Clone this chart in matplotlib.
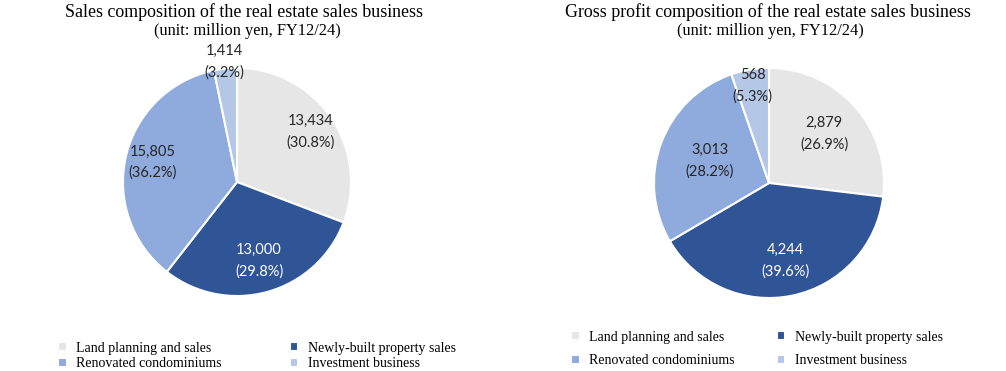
import matplotlib
matplotlib.use('Agg')
import matplotlib.pyplot as plt
import numpy as np

categories = ['Land planning and sales', 'Newly-built property sales',
              'Renovated condominiums', 'Investment business']
sales = [13434, 13000, 15805, 1414]
sales_pct = ['30.8%', '29.8%', '36.2%', '3.2%']
profit = [2879, 4244, 3013, 568]
profit_pct = ['26.9%', '39.6%', '28.2%', '5.3%']

colors = ['#E7E6E6', '#2F5597', '#8FAADC', '#B4C7E7']
text_colors = ['#262626', 'white', '#262626', '#262626']

W, H = 1006, 371
fig = plt.figure(figsize=(W / 100, H / 100), dpi=100)


def draw_pie(cx, cy, r, values, pcts, label_r):
    ax = fig.add_axes([(cx - r) / W, 1 - (cy + r) / H, 2 * r / W, 2 * r / H])
    wedges, _ = ax.pie(values, colors=colors, startangle=90, counterclock=False,
                       wedgeprops=dict(edgecolor='white', linewidth=1.5))
    ax.set_xlim(-1, 1)
    ax.set_ylim(-1, 1)
    for w, v, p, tc, lr in zip(wedges, values, pcts, text_colors, label_r):
        ang = np.deg2rad((w.theta1 + w.theta2) / 2)
        ax.text(lr * np.cos(ang), lr * np.sin(ang), f'{v:,}\n({p})',
                ha='center', va='center', color=tc, fontsize=10.5,
                family='Lato', linespacing=1.65)
    return wedges


wedges = draw_pie(237, 182, 114, sales, sales_pct, [0.78, 0.72, 0.76, 1.06])
draw_pie(769, 183, 115, profit, profit_pct, [0.64, 0.69, 0.55, 0.86])

serif = 'Liberation Serif'
fig.text(244 / W, 1 - 12 / H, 'Sales composition of the real estate sales business',
         ha='center', va='center', fontsize=12.9, family=serif)
fig.text(247 / W, 1 - 31 / H, '(unit: million yen, FY12/24)',
         ha='center', va='center', fontsize=11.8, family=serif)
fig.text(768 / W, 1 - 12 / H, 'Gross profit composition of the real estate sales business',
         ha='center', va='center', fontsize=12.9, family=serif)
fig.text(770 / W, 1 - 31 / H, '(unit: million yen, FY12/24)',
         ha='center', va='center', fontsize=11.8, family=serif)

# legend filled row by row
order = [0, 2, 1, 3]
handles = [wedges[i] for i in order]
labels = [categories[i] for i in order]

legend_kw = dict(ncol=2, frameon=False, handlelength=0.6, handleheight=0.6,
                 handletextpad=0.7, columnspacing=4.9, labelspacing=0.2,
                 prop=dict(family=serif, size=10), loc='center')
fig.legend(handles, labels, bbox_to_anchor=(257 / W, 1 - 356 / H), **legend_kw)
leg_kw2 = dict(legend_kw)
leg_kw2['labelspacing'] = 0.75
leg_kw2['columnspacing'] = 3.0
fig.legend(handles, labels, bbox_to_anchor=(757 / W, 1 - 349 / H), **leg_kw2)

plt.savefig('out.png', dpi=100)
plt.close()
